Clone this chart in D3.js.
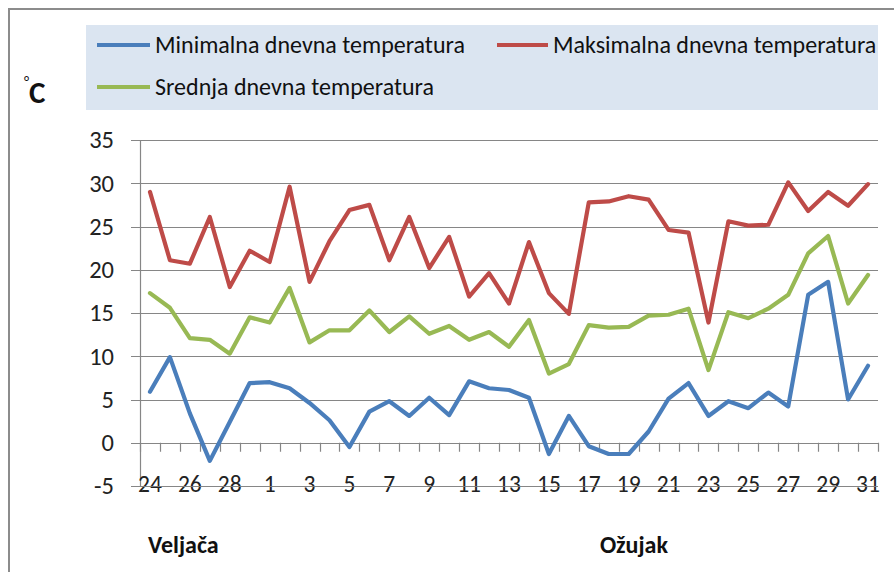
<!DOCTYPE html>
<html>
<head>
<meta charset="utf-8">
<script src="https://cdn.jsdelivr.net/npm/d3@7"></script>
<style>
  html, body { margin: 0; padding: 0; background: #fff; }
  svg { display: block; font-family: Carlito, Lato, "Liberation Sans", sans-serif; }
</style>
</head>
<body>
<svg id="chart" width="894" height="572"></svg>
<script>
// ---- data ----
const dayLabels = ["24","25","26","27","28","29","1","2","3","4","5","6","7","8","9","10","11","12","13","14","15","16","17","18","19","20","21","22","23","24","25","26","27","28","29","30","31"];
const minTemp = [5.9, 9.9, 3.4, -2.1, 2.4, 6.9, 7.0, 6.3, 4.6, 2.6, -0.5, 3.6, 4.8, 3.1, 5.2, 3.2, 7.1, 6.3, 6.1, 5.2, -1.3, 3.1, -0.4, -1.3, -1.3, 1.3, 5.1, 6.9, 3.1, 4.8, 4.0, 5.8, 4.2, 17.1, 18.6, 5.0, 8.9];
const maxTemp = [29.0, 21.1, 20.7, 26.1, 18.0, 22.2, 20.9, 29.6, 18.6, 23.3, 26.9, 27.5, 21.1, 26.1, 20.2, 23.8, 16.9, 19.6, 16.1, 23.2, 17.3, 14.9, 27.8, 27.9, 28.5, 28.1, 24.6, 24.3, 13.9, 25.6, 25.1, 25.2, 30.1, 26.8, 29.0, 27.4, 29.9];
const meanTemp = [17.3, 15.6, 12.1, 11.9, 10.3, 14.5, 13.9, 17.9, 11.6, 13.0, 13.0, 15.3, 12.8, 14.6, 12.6, 13.5, 11.9, 12.8, 11.1, 14.2, 8.0, 9.1, 13.6, 13.3, 13.4, 14.7, 14.8, 15.5, 8.4, 15.1, 14.4, 15.5, 17.1, 21.9, 23.9, 16.1, 19.4];
const yTicks = [-5, 0, 5, 10, 15, 20, 25, 30, 35];
const seriesNames = ["Minimalna dnevna temperatura", "Maksimalna dnevna temperatura", "Srednja dnevna temperatura"];
const monthLabels = ["Veljača", "Ožujak"];
const unitLabel = "C";

// ---- layout ----
const svg = d3.select("#chart");
const plotL = 140, plotR = 878, plotT = 140, plotB = 486;
const colors = ["#4a7ebb", "#be4b48", "#98b954"];
const gridColor = "#868686";

// outer border
svg.append("rect").attr("x", 9).attr("y", 9).attr("width", 900).attr("height", 600)
  .attr("fill", "#fff").attr("stroke", "#8c8c8c").attr("stroke-width", 2);

const idx = dayLabels.map((d, i) => i);
const x = d3.scaleBand().domain(idx).range([plotL, plotR]).padding(0);
const y = d3.scaleLinear().domain([-5, 35]).range([plotB, plotT]);

// gridlines
svg.append("g").selectAll("line").data(yTicks).join("line")
  .attr("x1", plotL - 9).attr("x2", plotR)
  .attr("y1", d => Math.round(y(d)) + 0.5).attr("y2", d => Math.round(y(d)) + 0.5)
  .attr("stroke", gridColor).attr("stroke-width", 1.2);

// y axis labels
const yAxis = svg.append("g").attr("transform", `translate(${plotL - 26},0)`)
  .call(d3.axisLeft(y).tickValues(yTicks).tickSize(0).tickPadding(0).tickFormat(d => String(d)));
yAxis.attr("font-family", null).attr("font-size", null);
yAxis.select(".domain").remove();
yAxis.selectAll("text").attr("font-size", 24.5).attr("fill", "#222");

// vertical axis line
svg.append("line").attr("x1", plotL + 0.5).attr("x2", plotL + 0.5)
  .attr("y1", plotT).attr("y2", plotB).attr("stroke", gridColor).attr("stroke-width", 1.2);

// category tick marks on zero line
const boundaries = d3.range(dayLabels.length + 1).map(k => plotL + k * x.step());
svg.append("g").selectAll("line").data(boundaries).join("line")
  .attr("x1", d => Math.round(d) + 0.5).attr("x2", d => Math.round(d) + 0.5)
  .attr("y1", y(0)).attr("y2", y(0) + 9)
  .attr("stroke", gridColor).attr("stroke-width", 1.2);

// x labels
const xAxis = svg.append("g").attr("transform", `translate(0,${plotB - 2})`)
  .call(d3.axisBottom(x).tickSize(0).tickPadding(0).tickFormat(i => i % 2 === 0 ? dayLabels[i] : ""));
xAxis.attr("font-family", null).attr("font-size", null);
xAxis.select(".domain").remove();
xAxis.selectAll("text").attr("y", 0).attr("dy", "0.36em").attr("font-size", 23.5).attr("fill", "#222");

// redraw -5 gridline over the labels
svg.append("line").attr("x1", plotL - 9).attr("x2", plotR)
  .attr("y1", Math.round(y(-5)) + 0.5).attr("y2", Math.round(y(-5)) + 0.5)
  .attr("stroke", gridColor).attr("stroke-width", 1.2).attr("opacity", 0.85);

// lines
const line = d3.line().x((d, i) => x(i) + x.bandwidth() / 2).y(d => y(d)).curve(d3.curveLinear);
[minTemp, maxTemp, meanTemp].forEach((s, k) => {
  svg.append("path").datum(s).attr("d", line).attr("fill", "none")
    .attr("stroke", colors[k]).attr("stroke-width", 4.2).attr("stroke-linejoin", "round").attr("stroke-linecap", "round");
});

// legend
svg.append("rect").attr("x", 86).attr("y", 25).attr("width", 792).attr("height", 85).attr("fill", "#dbe5f1");
const legendItems = [
  { x: 97, y: 45, w: 53, tx: 155, name: seriesNames[0], c: colors[0] },
  { x: 497, y: 45, w: 51, tx: 553, name: seriesNames[1], c: colors[1] },
  { x: 97, y: 87, w: 53, tx: 155, name: seriesNames[2], c: colors[2] }
];
const lg = svg.append("g").selectAll("g").data(legendItems).join("g");
lg.append("line").attr("x1", d => d.x).attr("x2", d => d.x + d.w).attr("y1", d => d.y).attr("y2", d => d.y)
  .attr("stroke", d => d.c).attr("stroke-width", 4);
lg.append("text").attr("x", d => d.tx).attr("y", d => d.y).attr("dy", "0.35em")
  .attr("font-size", 24).attr("fill", "#111").text(d => d.name);

// unit label
svg.append("text").attr("x", 24).attr("y", 86).attr("font-size", 15).attr("fill", "#111").text("°");
svg.append("text").attr("x", 29).attr("y", 103).attr("font-size", 31).attr("font-weight", "bold").attr("fill", "#111").text(unitLabel);

// month labels
svg.append("text").attr("x", 148).attr("y", 545).attr("dy", "0.35em").attr("font-size", 24).attr("font-weight", "bold").attr("fill", "#111").text(monthLabels[0]);
svg.append("text").attr("x", 600).attr("y", 545).attr("dy", "0.35em").attr("font-size", 24).attr("font-weight", "bold").attr("fill", "#111").text(monthLabels[1]);
</script>
</body>
</html>
